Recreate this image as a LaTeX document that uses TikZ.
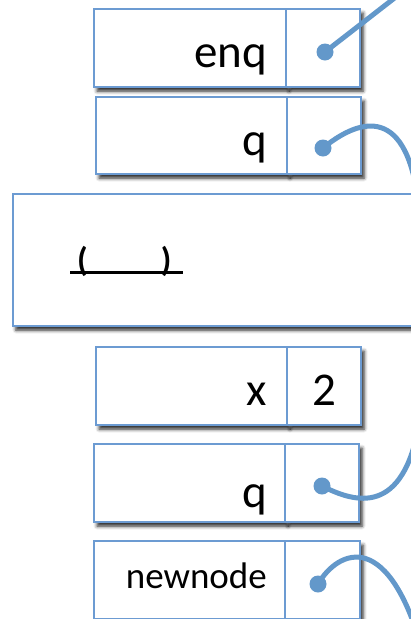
\documentclass[tikz,border=0pt]{standalone}
\usepackage{fontspec}
\setmainfont{Carlito}
\usetikzlibrary{positioning,shadows.blur}
\definecolor{boxblue}{RGB}{108,155,210}
\definecolor{linkblue}{RGB}{99,152,202}

\begin{document}
\begin{tikzpicture}[
    x=1pt, y=-1pt,
    cell/.style={draw=boxblue, line width=1.8pt, fill=white, inner sep=0pt,
                 outer sep=0pt, minimum height=78pt,
                 blur shadow={shadow xshift=3pt, shadow yshift=-4pt,
                              shadow blur radius=3.5pt, shadow opacity=85}},
    namecell/.style={cell, minimum width=191pt},
    ptrcell/.style={cell, minimum width=74pt},
    celltext/.style={font=\fontsize{47}{50}\selectfont, anchor=base east, inner sep=0pt},
    smalltext/.style={celltext, font=\fontsize{37}{40}\selectfont},
    ptrdot/.style={circle, fill=linkblue, inner sep=0pt, minimum size=17pt},
    ptrlink/.style={draw=linkblue, line width=5pt, line cap=round}
  ]
  \clip (0,0) rectangle (411,619);

  % enq
  \node[namecell, minimum width=192pt] (enqcell) at (190,48) {};
  \node[ptrcell, right=0pt of enqcell] (enqptr) {};
  \node[celltext] (enqtext) at (267,67) {enq};

  % q
  \node[namecell, minimum height=77pt] (qcell) at (191.5,135.5) {};
  \node[ptrcell, minimum height=77pt, right=0pt of qcell] (qptr) {};
  \node[celltext] (qtext) at (267,155) {q};

  % frame with the blank
  \node[cell, minimum width=420pt, minimum height=132pt, anchor=north west]
    (frame) at (13,194) {};
  \node[font=\fontsize{34}{38}\selectfont\bfseries, anchor=base west, inner sep=0pt]
    (blank) at (70,271) {\rlap{\rule[-3pt]{113pt}{3pt}}\hspace{7pt}(\hspace{73pt})};

  % x
  \node[namecell] (xcell) at (191.5,386) {};
  \node[ptrcell, right=0pt of xcell] (xptr) {};
  \node[celltext] (xtext) at (267,405) {x};
  \node[celltext, anchor=base] (xval) at (xptr.center |- 0,405) {2};

  % second q
  \node[namecell] (qqcell) at (189.5,483) {};
  \node[ptrcell, right=0pt of qqcell] (qqptr) {};
  \node[celltext] (qqtext) at (267,507) {q};

  % newnode
  \node[namecell] (newcell) at (189.5,580) {};
  \node[ptrcell, minimum width=75pt, right=0pt of newcell] (newptr) {};
  \node[smalltext] (newtext) at (267,588) {newnode};

  % pointers
  \node[ptrdot] (enqdot) at (325,52) {};
  \node[ptrdot] (qdot) at (323,148) {};
  \node[ptrdot] (qqdot) at (322,486) {};
  \node[ptrdot] (newdot) at (318,584) {};

  \coordinate (enqend) at (410,-14);
  \coordinate (qend) at (418,200);
  \coordinate (qqend) at (418,430);
  \coordinate (newend) at (425,660);

  \draw[ptrlink] (enqdot.center) -- (enqend);
  \draw[ptrlink] (qdot.center) .. controls (355,122) and (405,100) .. (qend);
  \draw[ptrlink] (qqdot.center) .. controls (350,500) and (400,520) .. (qqend);
  \draw[ptrlink] (newdot.center) .. controls (338,550) and (390,525) .. (newend);
\end{tikzpicture}
\end{document}
